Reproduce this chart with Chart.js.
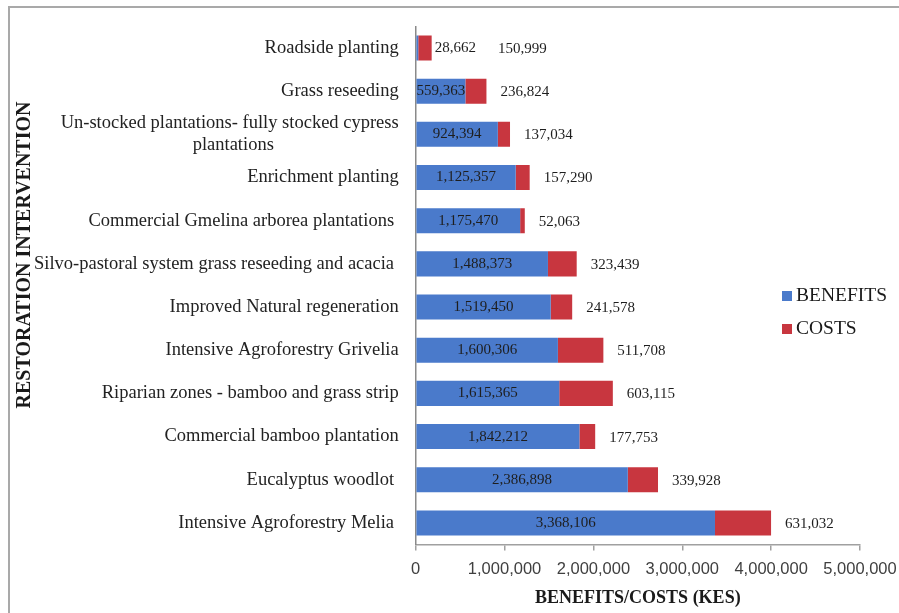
<!DOCTYPE html>
<html><head><meta charset="utf-8">
<script src="https://cdn.jsdelivr.net/npm/chart.js@4.4.0/dist/chart.umd.min.js"></script>
<style>
html,body{margin:0;padding:0;background:#fff;overflow:hidden;width:899px;height:613px;}
#frame{position:absolute;left:8px;top:6px;width:1000px;height:700px;border-left:2px solid #a9a9a9;border-top:2px solid #a9a9a9;}
#c{position:absolute;left:0;top:0;}
</style></head><body>
<div id="frame"></div>
<canvas id="c" width="899" height="613"></canvas>
<script>
const categories = [
  "Roadside planting",
  "Grass reseeding",
  ["Un-stocked plantations- fully stocked cypress", "plantations"],
  "Enrichment planting",
  "Commercial Gmelina arborea plantations ",
  "Silvo-pastoral system grass reseeding and acacia ",
  "Improved Natural regeneration",
  "Intensive Agroforestry Grivelia",
  "Riparian zones - bamboo and grass strip",
  "Commercial bamboo plantation",
  "Eucalyptus woodlot ",
  "Intensive Agroforestry Melia "
];
const benefits = [28662, 559363, 924394, 1125357, 1175470, 1488373, 1519450, 1600306, 1615365, 1842212, 2386898, 3368106];
const costs = [150999, 236824, 137034, 157290, 52063, 323439, 241578, 511708, 603115, 177753, 339928, 631032];
const seriesNames = ["BENEFITS", "COSTS"];
const seriesColors = ["#4a7acb", "#c8363f"];
const xMin = 0, xMax = 5000000, xStep = 1000000;
const xTitle = "BENEFITS/COSTS (KES)";
const yTitle = "RESTORATION INTERVENTION";

const fmt = v => Number(v).toLocaleString("en-US");
const SERIF = "'Liberation Serif', 'Times New Roman', serif";
const SANS = "'Liberation Sans', Arial, sans-serif";

// center the second line of multi-line labels under the first (pad with trailing spaces)
const mctx = document.createElement("canvas").getContext("2d");
mctx.font = "18.5px " + SERIF;
const yLabels = categories.map(c => {
  if (!Array.isArray(c)) return c;
  const w0 = mctx.measureText(c[0]).width;
  return c.map((line, i) => {
    if (i === 0) return line;
    let s = line;
    const target = (w0 + mctx.measureText(line).width) / 2;
    while (mctx.measureText(s + " ").width <= target) s += " ";
    return s;
  });
});

const dataLabels = {
  id: "dataLabels",
  afterDatasetsDraw(chart) {
    const ctx = chart.ctx;
    const m0 = chart.getDatasetMeta(0), m1 = chart.getDatasetMeta(1);
    ctx.save();
    ctx.font = "15px " + SERIF;
    ctx.fillStyle = "#1e1e1e";
    ctx.textBaseline = "middle";
    m0.data.forEach((bar, i) => {
      const cbar = m1.data[i];
      const tb = fmt(benefits[i]);
      const wb = ctx.measureText(tb).width;
      const segW = bar.x - bar.base;
      let next;
      if (segW > wb * 0.8) {
        ctx.textAlign = "center";
        ctx.fillText(tb, (bar.x + bar.base) / 2, bar.y);
        next = cbar.x + 14;
      } else {
        ctx.textAlign = "left";
        ctx.fillText(tb, cbar.x + 3, bar.y);
        next = cbar.x + 3 + wb + 22;
      }
      ctx.textAlign = "left";
      ctx.fillText(fmt(costs[i]), next, cbar.y + 1);
    });
    ctx.restore();
  }
};

const extras = {
  id: "extras",
  afterDraw(chart) {
    const ctx = chart.ctx;
    ctx.save();
    // y axis title
    ctx.translate(25, 255);
    ctx.rotate(-Math.PI / 2);
    ctx.font = "bold 20px " + SERIF;
    ctx.fillStyle = "#1a1a1a";
    ctx.textAlign = "center";
    ctx.textBaseline = "middle";
    ctx.fillText(yTitle, 0, 0);
    ctx.restore();
    // legend
    ctx.save();
    ctx.font = "19.5px " + SERIF;
    ctx.textAlign = "left";
    ctx.textBaseline = "alphabetic";
    chart.data.datasets.forEach((ds, i) => {
      const y = 301 + i * 33;
      ctx.fillStyle = ds.backgroundColor;
      ctx.fillRect(782, y - 10, 10, 10);
      ctx.fillStyle = "#1a1a1a";
      ctx.fillText(ds.label, 796, y);
    });
    ctx.restore();
  }
};

new Chart(document.getElementById("c"), {
  type: "bar",
  data: {
    labels: yLabels,
    datasets: [
      { label: seriesNames[0], data: benefits, backgroundColor: seriesColors[0] },
      { label: seriesNames[1], data: costs, backgroundColor: seriesColors[1] }
    ]
  },
  options: {
    indexAxis: "y",
    responsive: false,
    animation: false,
    devicePixelRatio: 1,
    layout: { padding: { left: 0, top: 26.4, right: 39, bottom: 0 } },
    datasets: { bar: { barPercentage: 0.58, categoryPercentage: 1.0 } },
    plugins: { legend: { display: false }, tooltip: { enabled: false } },
    scales: {
      x: {
        stacked: true,
        min: xMin, max: xMax,
        ticks: { stepSize: xStep, callback: v => fmt(v), font: { family: SANS, size: 16.5 }, color: "#404040", padding: 9, maxRotation: 0 },
        grid: { drawOnChartArea: false, drawTicks: true, tickLength: 6, color: "#a0a0a0", lineWidth: 1.5 },
        border: { display: true, color: "#a0a0a0", width: 1.5 },
        title: { display: true, text: xTitle, font: { family: SERIF, size: 18, weight: "bold" }, color: "#1a1a1a", padding: { top: 0, bottom: 4 } },
        afterFit: s => { s.height = 613 - 544.5; s.paddingRight = 0; s.paddingLeft = 0; }
      },
      y: {
        stacked: true,
        ticks: { font: { family: SERIF, size: 18.5 }, color: "#222", padding: 17, autoSkip: false },
        grid: { display: true, drawOnChartArea: false, drawTicks: false },
        border: { display: true, color: "#8a8a8a", width: 1.5 },
        afterFit: s => { s.width = 415.7; s.paddingTop = 0; s.paddingBottom = 0; }
      }
    }
  },
  plugins: [dataLabels, extras]
});
</script>
</body></html>
